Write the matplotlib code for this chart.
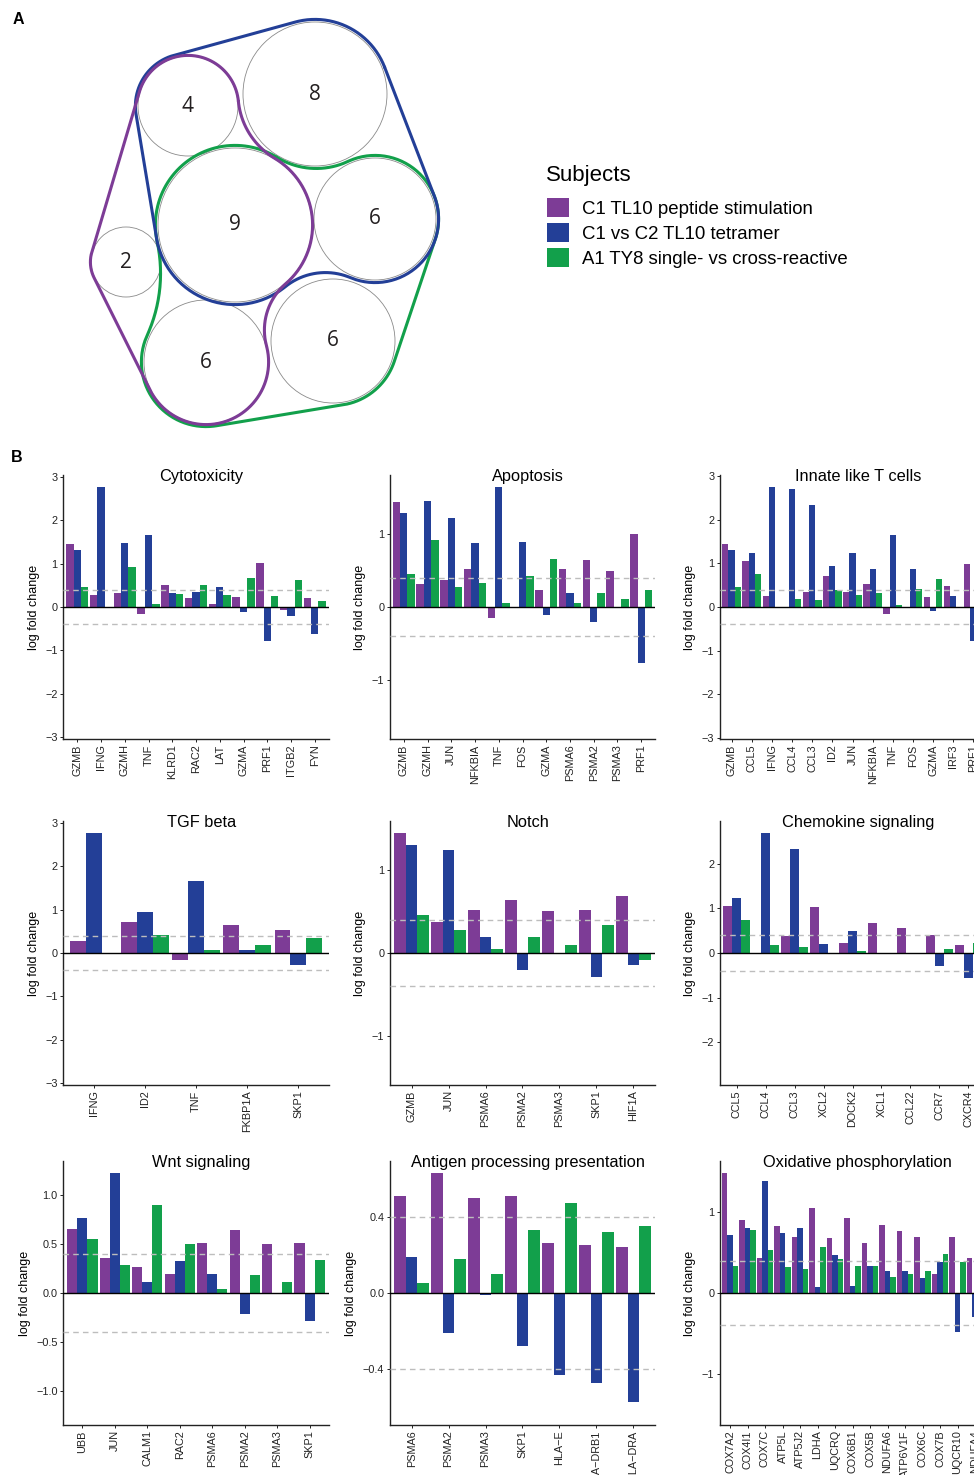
import numpy as np
import matplotlib
matplotlib.use("Agg")
from matplotlib import pyplot as plt
from matplotlib.patches import Circle, Patch
from matplotlib.ticker import MultipleLocator, FuncFormatter

plt.rcParams['font.family'] = ['Liberation Sans', 'DejaVu Sans']

W, H = 974, 1475

PURPLE = '#7D3C96'
BLUE = '#233F97'
GREEN = '#12A04B'
COLORS = [PURPLE, BLUE, GREEN]

subjects = ['C1 TL10 peptide stimulation', 'C1 vs C2 TL10 tetramer',
            'A1 TY8 single- vs cross-reactive']

# ---- panel A: euler diagram, genes per region
regions = ['r4', 'r8', 'r9', 'r6a', 'r2', 'r6b', 'r6c']
region_counts = [4, 8, 9, 6, 2, 6, 6]

# layout of the circles (pixel x, pixel y, radius)
circle_layout = {
    'r4': (188, 106, 50),
    'r8': (315, 94, 72),
    'r9': (235, 225, 77),
    'r6a': (375, 219, 61),
    'r2': (126, 262, 35),
    'r6b': (206, 362, 62),
    'r6c': (333, 341, 62),
}

# outline of each subject: regions in walking order, connector to next
# (None = straight tangent, number = concave fillet radius), offset
hull_routes = [
    (GREEN, ['r9', 'r6b', 'r6c', 'r6a'], [150, None, None, 75], 2.6),
    (BLUE, ['r8', 'r4', 'r9', 'r6a'], [None, None, 64, None], 2.6),
    (PURPLE, ['r4', 'r2', 'r6b', 'r9'], [None, None, 61, 75], 0.6),
]

# ---- panel B: log fold change per gene set
cyto_genes = ['GZMB', 'IFNG', 'GZMH', 'TNF', 'KLRD1', 'RAC2', 'LAT', 'GZMA', 'PRF1', 'ITGB2', 'FYN']
cyto_pep = [1.44, 0.27, 0.32, -0.16, 0.50, 0.20, 0.08, 0.22, 1.01, -0.06, 0.21]
cyto_tet = [1.31, 2.76, 1.47, 1.65, 0.32, 0.34, 0.45, -0.11, -0.78, -0.21, -0.62]
cyto_ty8 = [0.45, -0.02, 0.92, 0.06, 0.29, 0.50, 0.27, 0.66, 0.25, 0.62, 0.13]

apop_genes = ['GZMB', 'GZMH', 'JUN', 'NFKBIA', 'TNF', 'FOS', 'GZMA', 'PSMA6', 'PSMA2', 'PSMA3', 'PRF1']
apop_pep = [1.45, 0.31, 0.37, 0.52, -0.15, 0.0, 0.23, 0.52, 0.64, 0.50, 1.00]
apop_tet = [1.29, 1.46, 1.22, 0.88, 1.65, 0.89, -0.11, 0.19, -0.21, -0.01, -0.77]
apop_ty8 = [0.46, 0.92, 0.28, 0.33, 0.06, 0.42, 0.66, 0.05, 0.19, 0.11, 0.24]

innate_genes = ['GZMB', 'CCL5', 'IFNG', 'CCL4', 'CCL3', 'ID2', 'JUN', 'NFKBIA', 'TNF', 'FOS', 'GZMA', 'IRF3', 'PRF1']
innate_pep = [1.44, 1.05, 0.26, 0.0, 0.35, 0.70, 0.35, 0.52, -0.15, 0.0, 0.22, 0.49, 0.99]
innate_tet = [1.30, 1.23, 2.75, 2.71, 2.34, 0.93, 1.23, 0.86, 1.65, 0.88, -0.10, 0.26, -0.77]
innate_ty8 = [0.45, 0.75, -0.02, 0.19, 0.15, 0.40, 0.28, 0.31, 0.05, 0.42, 0.65, 0.0, 0.24]

tgf_genes = ['IFNG', 'ID2', 'TNF', 'FKBP1A', 'SKP1']
tgf_pep = [0.27, 0.71, -0.16, 0.64, 0.52]
tgf_tet = [2.76, 0.94, 1.65, 0.06, -0.28]
tgf_ty8 = [-0.02, 0.41, 0.06, 0.18, 0.34]

notch_genes = ['GZMB', 'JUN', 'PSMA6', 'PSMA2', 'PSMA3', 'SKP1', 'HIF1A']
notch_pep = [1.44, 0.37, 0.51, 0.63, 0.50, 0.51, 0.68]
notch_tet = [1.29, 1.23, 0.19, -0.21, -0.01, -0.29, -0.15]
notch_ty8 = [0.45, 0.28, 0.05, 0.19, 0.10, 0.34, -0.08]

chemo_genes = ['CCL5', 'CCL4', 'CCL3', 'XCL2', 'DOCK2', 'XCL1', 'CCL22', 'CCR7', 'CXCR4']
chemo_pep = [1.05, 0.0, 0.37, 1.02, 0.23, 0.68, 0.55, 0.41, 0.17]
chemo_tet = [1.23, 2.69, 2.33, 0.21, 0.50, 0.0, -0.02, -0.30, -0.57]
chemo_ty8 = [0.75, 0.19, 0.14, 0.0, 0.05, 0.0, -0.02, 0.08, 0.23]

wnt_genes = ['UBB', 'JUN', 'CALM1', 'RAC2', 'PSMA6', 'PSMA2', 'PSMA3', 'SKP1']
wnt_pep = [0.65, 0.36, 0.26, 0.19, 0.51, 0.64, 0.50, 0.51]
wnt_tet = [0.76, 1.22, 0.11, 0.33, 0.19, -0.21, 0.0, -0.28]
wnt_ty8 = [0.55, 0.28, 0.89, 0.50, 0.04, 0.18, 0.11, 0.34]

antigen_genes = ['PSMA6', 'PSMA2', 'PSMA3', 'SKP1', 'HLA\u2212E', 'HLA\u2212DRB1', 'HLA\u2212DRA']
antigen_pep = [0.51, 0.63, 0.50, 0.51, 0.26, 0.25, 0.24]
antigen_tet = [0.19, -0.21, -0.01, -0.28, -0.43, -0.47, -0.57]
antigen_ty8 = [0.05, 0.18, 0.10, 0.33, 0.47, 0.32, 0.35]

oxphos_genes = ['COX7A2', 'COX4I1', 'COX7C', 'ATP5L', 'ATP5J2', 'LDHA', 'UQCRQ', 'COX6B1',
                'COX5B', 'NDUFA6', 'ATP6V1F', 'COX6C', 'COX7B', 'UQCR10', 'NDUFA4']
oxphos_pep = [1.49, 0.91, 0.43, 0.83, 0.70, 1.06, 0.68, 0.93, 0.62, 0.84, 0.77, 0.70, 0.23, 0.69, 0.43]
oxphos_tet = [0.72, 0.81, 1.39, 0.75, 0.81, 0.07, 0.47, 0.09, 0.34, 0.27, 0.27, 0.19, 0.39, -0.48, -0.30]
oxphos_ty8 = [0.34, 0.78, 0.53, 0.32, 0.30, 0.57, 0.42, 0.34, 0.34, 0.20, 0.23, 0.27, 0.48, 0.38, 0.30]

THRESHOLD = 0.4


def hull_outline(centers, radii, links, pad):
    n = len(centers)
    out_ang, in_ang, conns = [], [], []
    for i in range(n):
        ca, cb = centers[i], centers[(i + 1) % n]
        ra, rb = radii[i] + pad, radii[(i + 1) % n] + pad
        d = cb - ca
        L = np.hypot(d[0], d[1])
        u = d / L
        ur = np.array([u[1], -u[0]])
        rf = links[i]
        if rf is None:
            c = (ra - rb) / L
            nv = c * u + np.sqrt(1 - c * c) * ur
            a = np.arctan2(nv[1], nv[0])
            out_ang.append(a)
            in_ang.append(a)
            conns.append(np.array([ca + ra * nv, cb + rb * nv]))
        else:
            R1, R2 = ra + rf, rb + rf
            s = (R1 ** 2 - R2 ** 2 + L ** 2) / (2 * L)
            h = np.sqrt(max(R1 ** 2 - s ** 2, 0))
            f = ca + s * u + h * ur
            va, vb = ca - f, cb - f
            b1 = np.arctan2(va[1], va[0])
            b2 = np.arctan2(vb[1], vb[0])
            if b2 > b1:
                b2 -= 2 * np.pi
            t = np.linspace(b1, b2, 60)
            conns.append(np.c_[f[0] + rf * np.cos(t), f[1] + rf * np.sin(t)])
            out_ang.append(np.arctan2(-va[1], -va[0]))
            in_ang.append(np.arctan2(-vb[1], -vb[0]))
    pts = []
    for i in range(n):
        a0, a1 = in_ang[i - 1], out_ang[i]
        if a1 < a0:
            a1 += 2 * np.pi
        t = np.linspace(a0, a1, 100)
        r = radii[i] + pad
        pts.append(np.c_[centers[i][0] + r * np.cos(t), centers[i][1] + r * np.sin(t)])
        pts.append(conns[i])
    pts.append(pts[0][:1])
    return np.vstack(pts)


fig = plt.figure(figsize=(W / 100, H / 100), dpi=100)

# ---------------- panel A
axA = fig.add_axes([0, 1 - 450 / H, 1, 450 / H])
axA.set_xlim(0, W)
axA.set_ylim(-450, 0)
axA.axis('off')

for name, count in zip(regions, region_counts):
    x, y, r = circle_layout[name]
    axA.add_patch(Circle((x, -y), r, fill=False, ec='#8a8a8a', lw=0.6))
    axA.text(x, -y, str(count), ha='center', va='center', fontsize=15,
             family=['Open Sans', 'DejaVu Sans'], color='#231f20')

for col, route, links, pad in hull_routes:
    cen = [np.array([circle_layout[k][0], -circle_layout[k][1]], float) for k in route]
    rad = [circle_layout[k][2] for k in route]
    p = hull_outline(cen, rad, links, pad)
    axA.plot(p[:, 0], p[:, 1], color=col, lw=2.2, solid_capstyle='round')

# legend: title as separate text, entries as a figure legend
fig.text(546 / W, 1 - 175 / H, 'Subjects', fontsize=16, ha='left', va='center')
handles = [Patch(facecolor=c, edgecolor='none') for c in COLORS]
fig.legend(handles, subjects, loc='upper left',
           bbox_to_anchor=(547 / W, 1 - 198 / H), frameon=False, fontsize=13.4,
           handlelength=1.18, handleheight=1.18,
           handletextpad=0.7, labelspacing=0.285, borderpad=0, borderaxespad=0)

fig.text(18 / W, 1 - 19 / H, 'A', fontsize=11.5, weight='bold', ha='center', va='center')
fig.text(17 / W, 1 - 458 / H, 'B', fontsize=11.5, weight='bold', ha='center', va='center')

# ---------------- panel B
col_left = [63, 389.5, 719.5]
row_top = [475, 821, 1161]
panel_w, panel_h = 266, 264
bw = 0.31


def minus_fmt(dec):
    return FuncFormatter(lambda v, p: f'{v:.{dec}f}'.replace('-', '\u2212'))


def bar_panel(col, row, title, genes, pep, tet, ty8, step, dec=0):
    left = col_left[col]
    top = row_top[row]
    ax = fig.add_axes([left / W, 1 - (top + panel_h) / H, panel_w / W, panel_h / H])
    x = np.arange(len(genes))
    for k, (vals, c) in enumerate(zip([pep, tet, ty8], COLORS)):
        ax.bar(x + (k - 1) * bw, vals, width=bw, color=c, linewidth=0, zorder=2)
    lim = 1.1 * max(abs(v) for v in pep + tet + ty8)
    ax.set_ylim(-lim, lim)
    ax.set_xlim(-0.6, len(genes) - 0.4)
    ax.axhline(0, color='black', lw=1.0, zorder=3)
    for t in (THRESHOLD, -THRESHOLD):
        ax.axhline(t, color='#bdbdbd', lw=1.0, ls=(0, (4, 3)), zorder=3)
    ax.set_xticks(x, genes, rotation=90)
    ax.yaxis.set_major_locator(MultipleLocator(step))
    ax.yaxis.set_major_formatter(minus_fmt(dec))
    for s in ('top', 'right'):
        ax.spines[s].set_visible(False)
    for s in ('left', 'bottom'):
        ax.spines[s].set_linewidth(1.0)
        ax.spines[s].set_color('#222222')
    ax.tick_params(axis='both', labelsize=7.8, length=2.3, width=0.7,
                   colors='#222222', pad=1.5)
    ax.set_ylabel('log fold change', fontsize=9, labelpad=4)
    ax.text(0.52, 0.995, title, transform=ax.transAxes, ha='center', va='center',
            fontsize=11.8, zorder=5)
    return ax


bar_panel(0, 0, 'Cytotoxicity', cyto_genes, cyto_pep, cyto_tet, cyto_ty8, 1)
bar_panel(1, 0, 'Apoptosis', apop_genes, apop_pep, apop_tet, apop_ty8, 1)
bar_panel(2, 0, 'Innate like T cells', innate_genes, innate_pep, innate_tet, innate_ty8, 1)
bar_panel(0, 1, 'TGF beta', tgf_genes, tgf_pep, tgf_tet, tgf_ty8, 1)
bar_panel(1, 1, 'Notch', notch_genes, notch_pep, notch_tet, notch_ty8, 1)
bar_panel(2, 1, 'Chemokine signaling', chemo_genes, chemo_pep, chemo_tet, chemo_ty8, 1)
bar_panel(0, 2, 'Wnt signaling', wnt_genes, wnt_pep, wnt_tet, wnt_ty8, 0.5, 1)
bar_panel(1, 2, 'Antigen processing presentation', antigen_genes, antigen_pep, antigen_tet, antigen_ty8, 0.4, 1)
bar_panel(2, 2, 'Oxidative phosphorylation', oxphos_genes, oxphos_pep, oxphos_tet, oxphos_ty8, 1)

fig.savefig('out.png', dpi=100)
